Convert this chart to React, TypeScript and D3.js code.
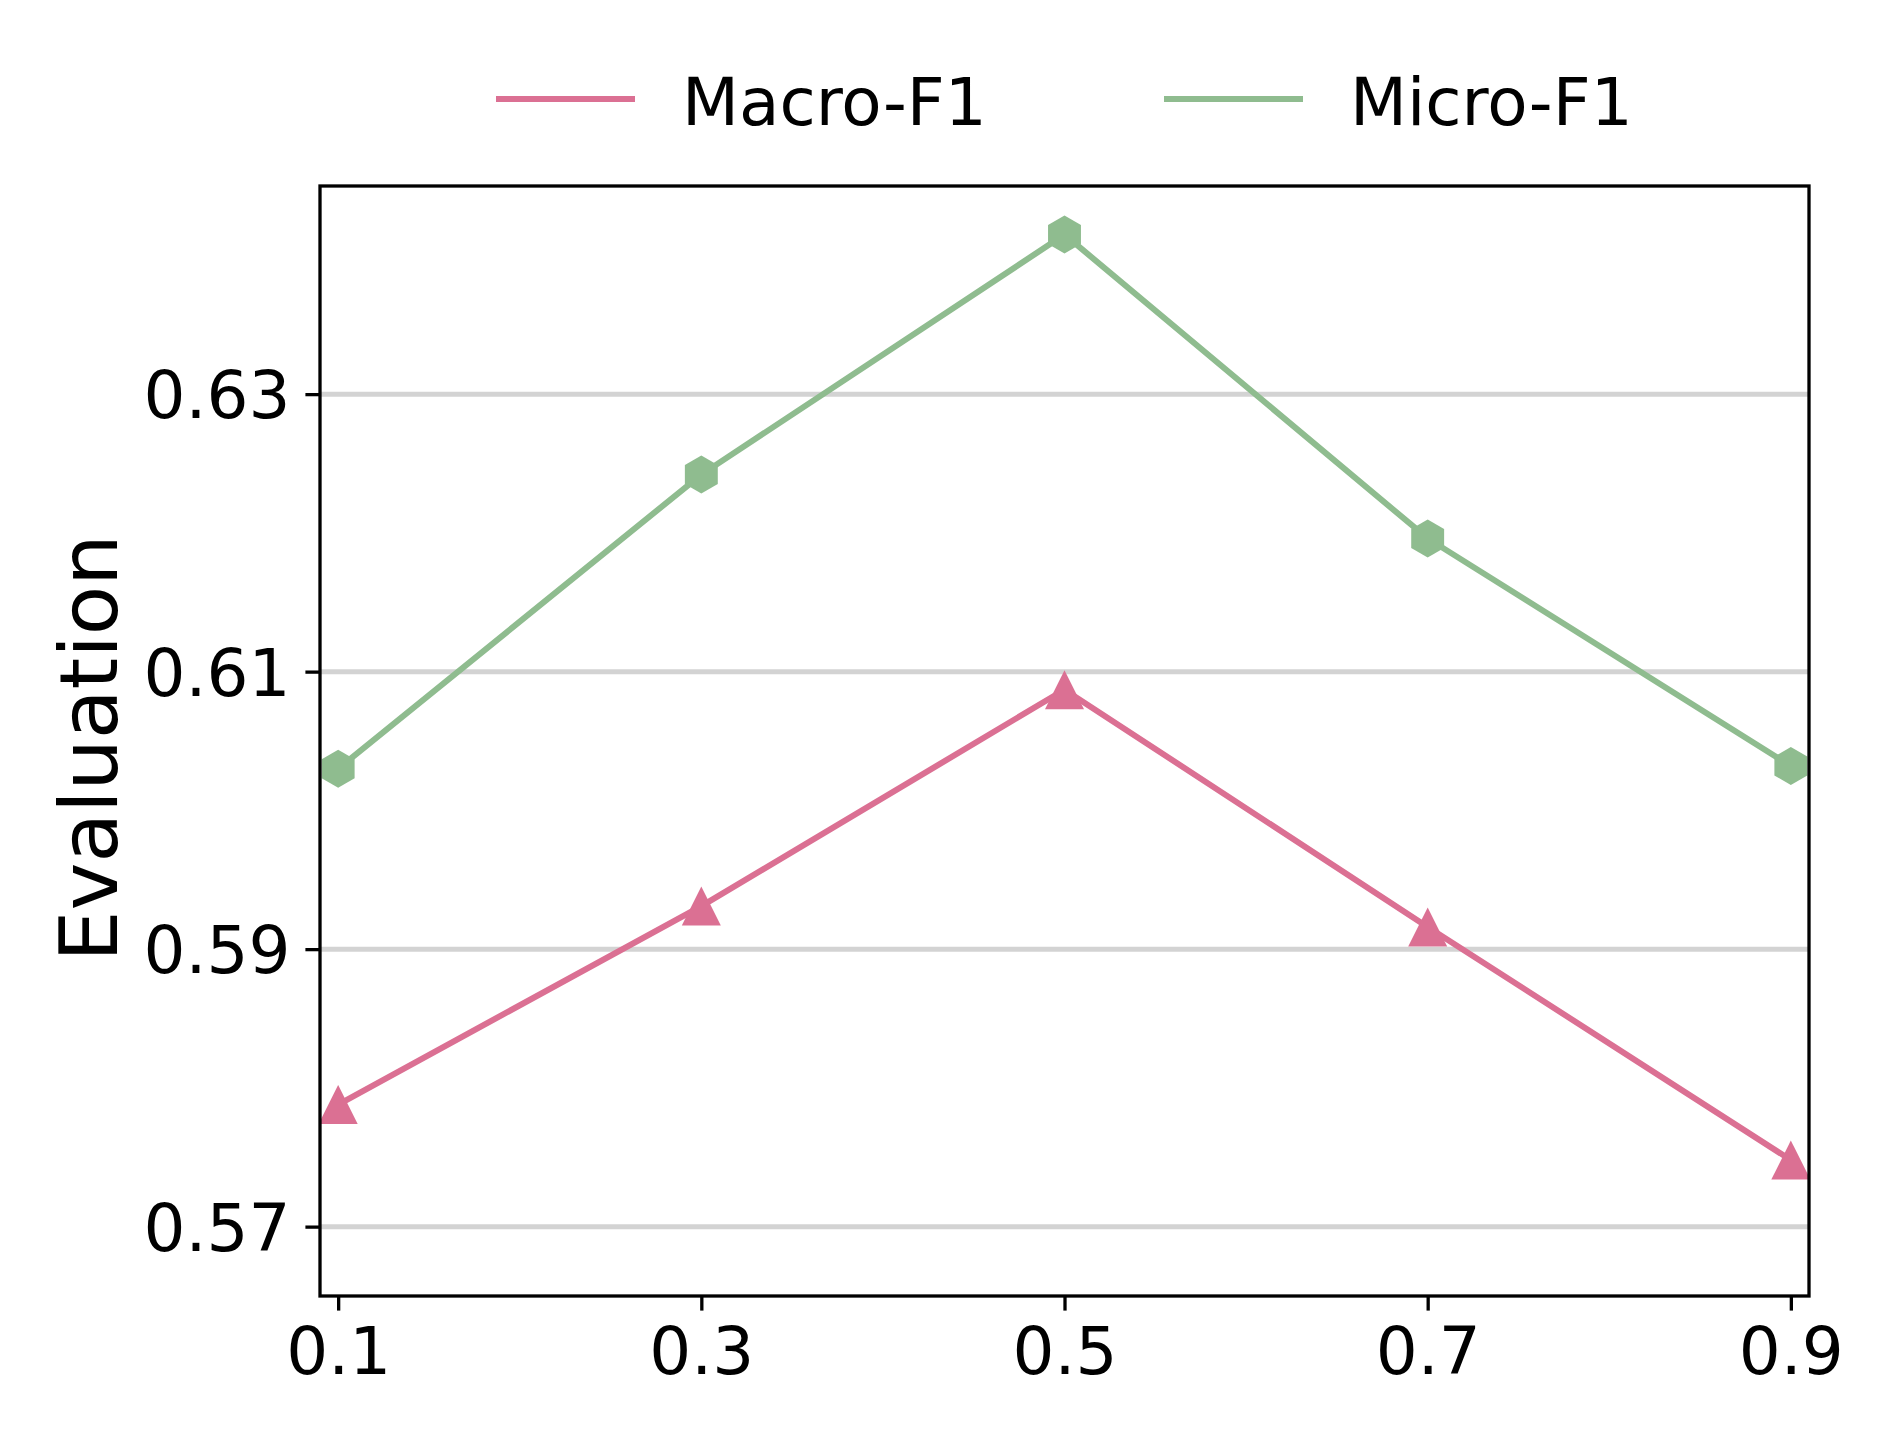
import React, { useEffect, useRef } from "react";
import * as d3 from "d3";

// values
const ratios = [0.1, 0.3, 0.5, 0.7, 0.9];
const macroF1 = [0.5788, 0.5931, 0.6087, 0.5916, 0.5748];
const microF1 = [0.603, 0.6242, 0.6415, 0.6196, 0.6032];
const yTicks = [0.57, 0.59, 0.61, 0.63];
const seriesNames = ["Macro-F1", "Micro-F1"];
const seriesColors = ["#DB7093", "#8FBC8F"];

const App = () => {
  const ref = useRef<HTMLDivElement>(null);

  useEffect(() => {
    const width = 1888;
    const height = 1435;
    const left = 320;
    const right = 1809;
    const top = 186;
    const bottom = 1296;
    const font = "DejaVu Sans";
    const tickFont = 66;

    d3.select(ref.current).select("svg").remove();

    const svg = d3
      .select(ref.current)
      .append("svg")
      .attr("width", width)
      .attr("height", height)
      .style("display", "block")
      .style("background", "#fff");

    const x = d3.scaleLinear().domain([0.09, 0.91]).range([left, right]);
    const y = d3.scaleLinear().domain([0.565, 0.645]).range([bottom, top]);

    svg
      .append("defs")
      .append("clipPath")
      .attr("id", "plot-area")
      .append("rect")
      .attr("x", left)
      .attr("y", top)
      .attr("width", right - left)
      .attr("height", bottom - top);

    // horizontal grid
    svg
      .append("g")
      .selectAll("line")
      .data(yTicks)
      .join("line")
      .attr("x1", left)
      .attr("x2", right)
      .attr("y1", (d) => y(d))
      .attr("y2", (d) => y(d))
      .attr("stroke", "#d3d3d3")
      .attr("stroke-width", 5);

    const plot = svg.append("g").attr("clip-path", "url(#plot-area)");

    const line = d3
      .line<number>()
      .x((_, i) => x(ratios[i]))
      .y((d) => y(d));

    const series = [macroF1, microF1];
    const triangle = "M0,-19.5L19.5,19.5L-19.5,19.5Z";
    const hexagon = d3.range(6).map((k) => {
      const a = (Math.PI / 3) * k - Math.PI / 2;
      return [19 * Math.cos(a), 19 * Math.sin(a)];
    });
    const hexPath = "M" + hexagon.map((p) => p.join(",")).join("L") + "Z";
    const shapes = [triangle, hexPath];

    series.forEach((values, s) => {
      plot
        .append("path")
        .datum(values)
        .attr("d", line)
        .attr("fill", "none")
        .attr("stroke", seriesColors[s])
        .attr("stroke-width", 6);

      plot
        .append("g")
        .selectAll("path")
        .data(values)
        .join("path")
        .attr("d", shapes[s])
        .attr("transform", (d, i) => `translate(${x(ratios[i])},${y(d)})`)
        .attr("fill", seriesColors[s]);
    });

    // frame
    svg
      .append("rect")
      .attr("x", left)
      .attr("y", top)
      .attr("width", right - left)
      .attr("height", bottom - top)
      .attr("fill", "none")
      .attr("stroke", "#000")
      .attr("stroke-width", 3.3);

    // x axis
    const xAxis = svg
      .append("g")
      .attr("transform", `translate(0,${bottom})`)
      .call(
        d3
          .axisBottom(x)
          .tickValues(ratios)
          .tickSize(14.6)
          .tickPadding(15)
          .tickFormat(d3.format(".1f"))
      );
    xAxis.select(".domain").remove();
    xAxis.selectAll("line").attr("stroke-width", 3.3);
    xAxis
      .selectAll("text")
      .attr("font-family", font)
      .attr("font-size", tickFont)
      .attr("dy", "0.74em")
      .attr("fill", "#000");

    // y axis
    const yAxis = svg
      .append("g")
      .attr("transform", `translate(${left},0)`)
      .call(
        d3
          .axisLeft(y)
          .tickValues(yTicks)
          .tickSize(14.6)
          .tickPadding(15)
          .tickFormat(d3.format(".2f"))
      );
    yAxis.select(".domain").remove();
    yAxis.selectAll("line").attr("stroke-width", 3.3);
    yAxis
      .selectAll("text")
      .attr("font-family", font)
      .attr("font-size", tickFont)
      .attr("dy", "0.36em")
      .attr("fill", "#000");

    svg
      .append("text")
      .attr("transform", "translate(117,748) rotate(-90)")
      .attr("text-anchor", "middle")
      .attr("font-family", font)
      .attr("font-size", 81)
      .attr("fill", "#000")
      .text("Evaluation");

    // legend
    const legendX = [496, 1164];
    const legend = svg
      .append("g")
      .selectAll("g")
      .data(seriesNames)
      .join("g")
      .attr("transform", (_, i) => `translate(${legendX[i]},99)`);

    legend
      .append("line")
      .attr("x1", 0)
      .attr("x2", 139)
      .attr("stroke", (_, i) => seriesColors[i])
      .attr("stroke-width", 6);

    legend
      .append("text")
      .attr("x", 186)
      .attr("y", 26)
      .attr("font-family", font)
      .attr("font-size", tickFont)
      .attr("fill", "#000")
      .text((d) => d);
  }, []);

  return (
    <div
      ref={ref}
      style={{ position: "absolute", left: 0, top: 0, width: 1888, height: 1435 }}
    ></div>
  );
};

export default App;
